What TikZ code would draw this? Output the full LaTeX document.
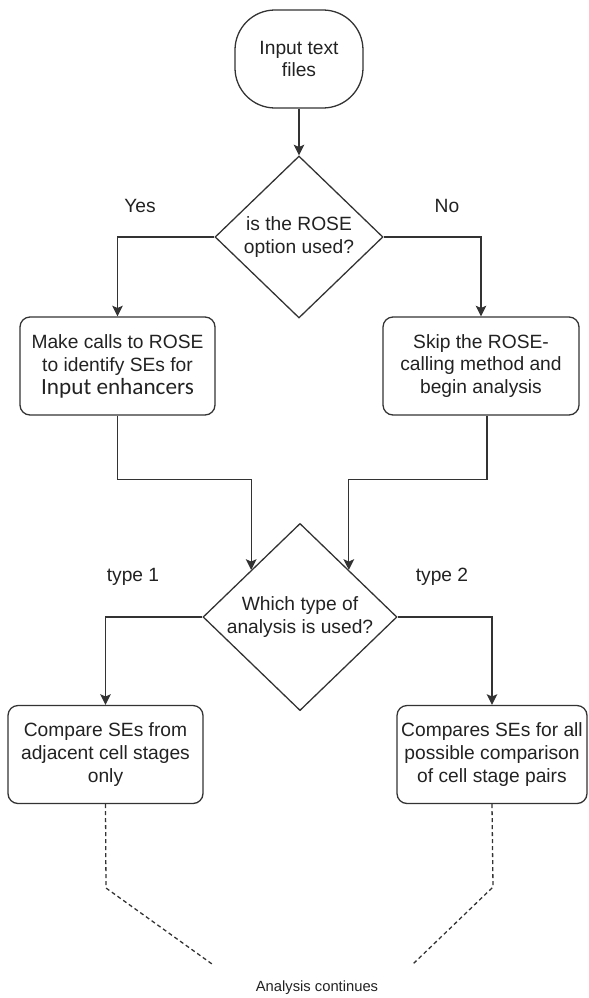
\documentclass[tikz,border=0pt]{standalone}
\usepackage{fontspec}
\setmainfont{Liberation Sans}
\newfontfamily\calibrifont{Carlito}
\usepackage{tikz}
\usetikzlibrary{arrows.meta, shapes.geometric}

\definecolor{linha}{HTML}{333333}
\definecolor{texto}{HTML}{222222}

\begin{document}
\begin{tikzpicture}[x=3mm, y=-3mm]
\tikzset{ >={Stealth[length=3.2mm, width=3.2mm, inset=0.7mm]},
  caixa/.style={draw=linha, line width=1.1pt, rounded corners=3mm, minimum width=58.5mm, minimum height=29.4mm,
    align=center, text=texto, font=\fontsize{16.4pt}{19.6pt}\selectfont},
  losango/.style={draw=linha, line width=1.1pt, diamond, aspect=1, inner sep=0pt, align=center, text=texto,
    font=\fontsize{16.4pt}{19.6pt}\selectfont},
  rotulo/.style={text=texto, font=\fontsize{16.4pt}{19.6pt}\selectfont},
  fluxo/.style={draw=linha, line width=1.1pt, ->},
  tracejado/.style={draw=linha, line width=1.1pt, dash pattern=on 1.2mm off 0.9mm},
}

\useasboundingbox (0,0) rectangle (58.8,99.8);

%\draw [lightgray, dashed](0,0) grid (58,99);

\node [caixa, rounded corners=12mm, minimum width=38.4mm] (inicio) at (29.9,5.9) {Input text\\files};
\node [losango, minimum width=50.4mm, minimum height=48.6mm] (rose) at (29.9,23.7) {is the ROSE\\option used?};

\node [caixa] (chamar) at (11.75,36.6) {Make calls to ROSE\\to identify SEs for\\{\calibrifont\fontsize{19.8pt}{19.6pt}\selectfont Input enhancers}};
\node [caixa, minimum width=58.8mm] (pular) at (48.1,36.6) {Skip the ROSE-\\calling method and\\begin analysis};

\node [losango, minimum width=58.2mm, minimum height=53.4mm] (tipo) at (30.0,61.7) {Which type of\\analysis is used?};

\node [caixa] (adjacente) at (10.55,75.45) {Compare SEs from\\adjacent cell stages\\only};
\node [caixa, minimum width=57mm] (todos) at (49.2,75.45) {Compares SEs for all\\possible comparison\\of cell stage pairs};

\node [text=texto, font=\fontsize{12.6pt}{15pt}\selectfont] (continua) at (31.7,98.8) {Analysis continues};

% rotulos
\node [rotulo] (sim)   at (14.0,20.6) {Yes};
\node [rotulo] (nao)   at (44.7,20.6) {No};
\node [rotulo] (tipoA) at (13.3,57.7) {type 1};
\node [rotulo] (tipoB) at (44.2,57.7) {type 2};

% ligacoes
\draw [fluxo] (inicio) -- (rose);
\draw [fluxo] (rose.west) -| (chamar.north);
\draw [fluxo] (rose.east) -| (pular.north);
\draw [fluxo] (chamar.south) -- ++(0,6.4) -| (tipo.north west);
\draw [fluxo] ([xshift=1.8mm]pular.south) -- ++(0,6.4) -| (tipo.north east);
\draw [fluxo] (tipo.west) -| (adjacente.north);
\draw [fluxo] (tipo.east) -| (todos.north);

% continuacao
\coordinate (dobraA) at (10.6,88.8);
\coordinate (fimA)   at (21.2,96.4);
\coordinate (dobraB) at (49.3,88.7);
\coordinate (fimB)   at (41.3,96.4);
\draw [tracejado] (adjacente.south) -- (dobraA) -- (fimA);
\draw [tracejado] (todos.south) -- (dobraB) -- (fimB);

\end{tikzpicture}
\end{document}
